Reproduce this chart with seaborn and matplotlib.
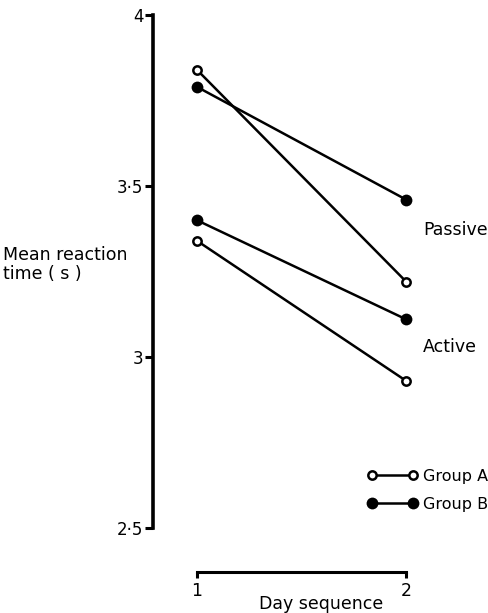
import matplotlib
matplotlib.use("Agg")
import matplotlib.pyplot as plt
from matplotlib.lines import Line2D
import pandas as pd
import seaborn as sns

# values
days = [1, 2]
group_a_passive = [3.84, 3.22]
group_a_active = [3.34, 2.93]
group_b_passive = [3.79, 3.46]
group_b_active = [3.40, 3.11]
y_ticks = [2.5, 3.0, 3.5, 4.0]
y_tick_labels = ["2·5", "3", "3·5", "4"]

rows = []
for group, cond, vals in [
    ("Group A", "Passive", group_a_passive),
    ("Group A", "Active", group_a_active),
    ("Group B", "Passive", group_b_passive),
    ("Group B", "Active", group_b_active),
]:
    for d, v in zip(days, vals):
        rows.append({"group": group, "condition": cond, "day": d, "rt": v})
df = pd.DataFrame(rows)

sns.set_style("ticks")
plt.rcParams["font.family"] = ["DejaVu Sans"]
plt.rcParams["text.color"] = "black"
plt.rcParams["axes.edgecolor"] = "black"
plt.rcParams["xtick.color"] = "black"
plt.rcParams["ytick.color"] = "black"
plt.rcParams["axes.labelcolor"] = "black"

W, H = 489, 613
fig = plt.figure(figsize=(W / 100, H / 100), dpi=100)
ax = fig.add_axes([153 / W, 1 - 528 / H, 1 - 153 / W, (528 - 15) / H])

styles = {
    "Group A": dict(markersize=6, markerfacecolor="white", markeredgecolor="black", markeredgewidth=1.8),
    "Group B": dict(markersize=8.5, markerfacecolor="black", markeredgecolor="black", markeredgewidth=0),
}
for group, sub in df.groupby("group"):
    sns.lineplot(data=sub, x="day", y="rt", units="condition", estimator=None,
                 color="black", linewidth=1.8, marker="o", ax=ax, **styles[group])

ax.set_xlim(1 - 44 / 210, 2 + 83 / 210)
ax.set_ylim(2.5, 4.0)
ax.set_yticks(y_ticks)
ax.set_yticklabels(y_tick_labels)
ax.set_xticks(days)
ax.set_xticklabels([str(d) for d in days])

sns.despine(ax=ax)
ax.spines["left"].set_linewidth(2.6)
ax.spines["left"].set_bounds(2.5, 4.0)
ax.spines["bottom"].set_linewidth(2.2)
ax.spines["bottom"].set_bounds(1, 2)
ax.spines["bottom"].set_position(("outward", 32))
ax.tick_params(axis="y", direction="out", length=6, width=2.2, pad=1, labelsize=12)
ax.tick_params(axis="x", direction="out", length=4, width=2.2, pad=3, labelsize=12.5)

ax.set_xlabel("Day sequence", fontsize=12.5, labelpad=-4)
ax.set_ylabel("")
fig.text(3 / W, 1 - 246 / H, "Mean reaction\ntime ( s )", ha="left", va="top",
         fontsize=12.5, linespacing=1.05)

ax.text(2.08, 3.37, "Passive", fontsize=12.5, va="center", ha="left")
ax.text(2.08, 3.03, "Active", fontsize=12.5, va="center", ha="left")

handles = [
    Line2D([], [], color="black", linewidth=1.8, marker="o", **styles["Group A"]),
    Line2D([], [], color="black", linewidth=1.8, marker="o", **styles["Group B"]),
]
fig.legend(handles, ["Group A", "Group B"], loc="upper left",
           bbox_to_anchor=(367 / W, 1 - 469 / H), bbox_transform=fig.transFigure,
           frameon=False, numpoints=2, fontsize=11.5, handlelength=3.2,
           handletextpad=0.3, labelspacing=0.8, borderpad=0, borderaxespad=0)

fig.savefig("out.png", dpi=100)
